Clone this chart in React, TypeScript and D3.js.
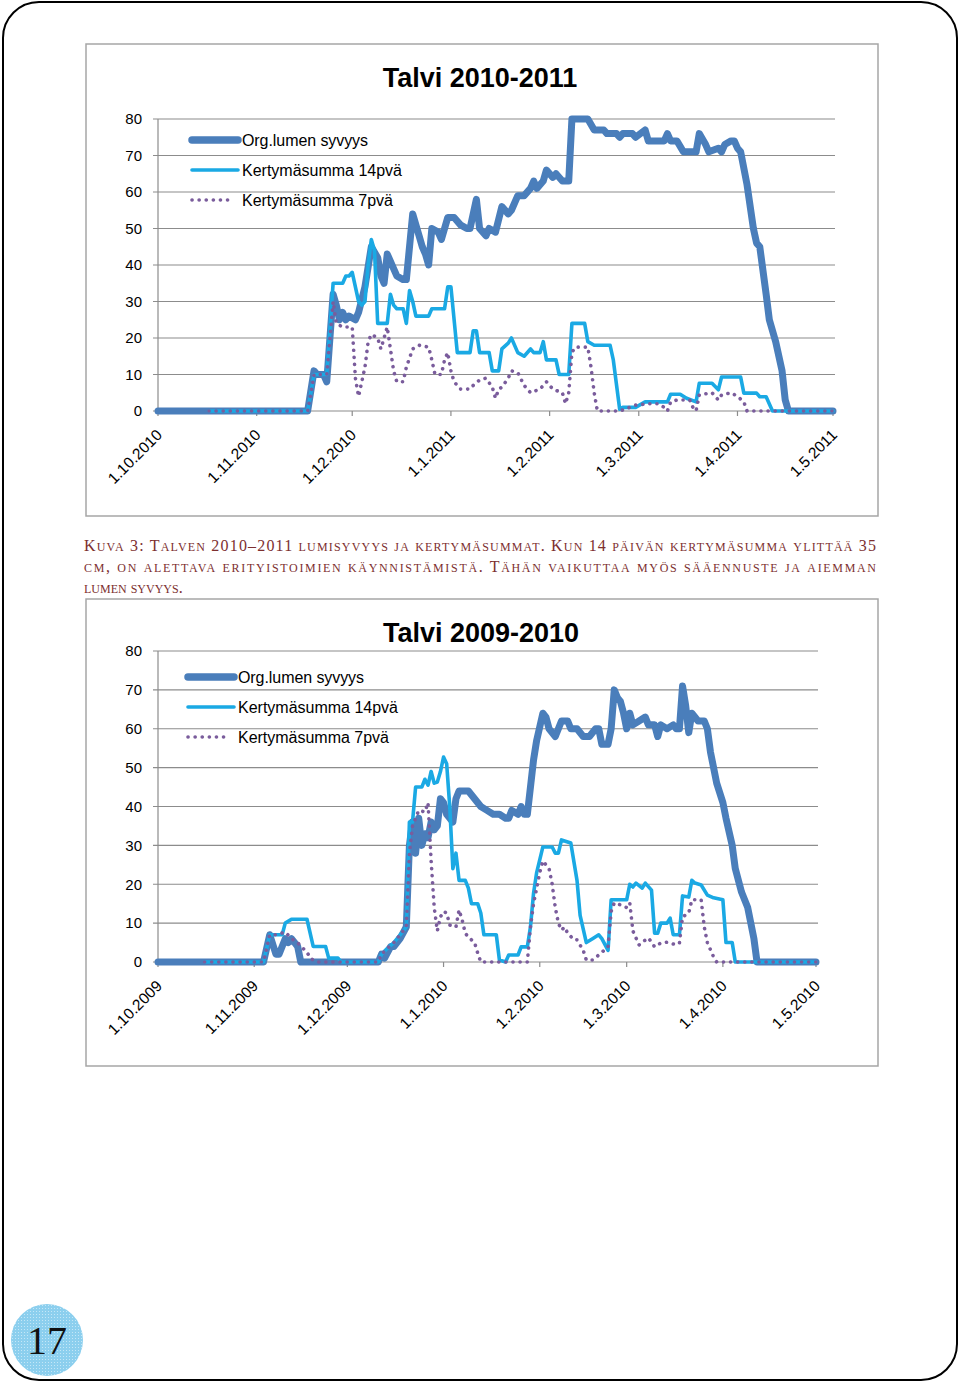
import React from "react";
import * as d3 from "d3";

type Pt = [number, number]; // [days since 1 October, value in cm]

const yTickValues = [0, 10, 20, 30, 40, 50, 60, 70, 80];
const seriesNames = ["Org.lumen syvyys", "Kertymäsumma 14pvä", "Kertymäsumma 7pvä"];
const titles = ["Talvi 2010-2011", "Talvi 2009-2010"];
const xTickLabelsA = ["1.10.2010", "1.11.2010", "1.12.2010", "1.1.2011", "1.2.2011", "1.3.2011", "1.4.2011", "1.5.2011"];
const xTickLabelsB = ["1.10.2009", "1.11.2009", "1.12.2009", "1.1.2010", "1.2.2010", "1.3.2010", "1.4.2010", "1.5.2010"];

// Winter 2010-2011
const depthA: Pt[] = [[0,0],[47,0],[49,11],[50,10],[52,10],[53,8],[55,32],[56,29],[57,25],[58,27],[59,25],[60,26],[62,25],[63,27],[65,34],[67,45],[69,42],[70,37],[71,35],[72,43],[74,39],[75,37],[77,36],[78,36],[80,54],[82,48],[83,45],[84,43],[85,40],[86,50],[88,49],[89,47],[91,53],[93,53],[95,51],[97,50],[98,50],[100,58],[101,50],[103,48],[104,50],[106,49],[108,56],[110,54],[111,55],[113,59],[115,59],[117,61],[118,63],[119,61],[121,63],[122,66],[124,64],[125,65],[127,63],[129,63],[130,80],[135,80],[137,77],[140,77],[141,76],[144,76],[145,75],[146,76],[149,76],[150,75],[153,77],[154,74],[159,74],[160,76],[161,74],[163,74],[165,71],[169,71],[170,76],[172,73],[173,71],[176,72],[177,71],[178,73],[180,74],[181,74],[182,72],[183,71],[185,62],[187,50],[188,46],[189,45],[191,32],[192,25],[194,19],[196,11],[197,3],[198,0],[212,0]];
const sum14A: Pt[] = [[16,0],[47,0],[49,10],[53,10],[55,35],[58,35],[59,37],[60,37],[61,38],[63,30],[64,29],[65,30],[66,40],[67,47],[68,44],[69,24],[72,24],[73,32],[74,29],[75,28],[77,28],[78,24],[79,33],[80,30],[81,26],[85,26],[86,28],[90,28],[91,34],[92,34],[94,16],[98,16],[99,22],[100,22],[101,16],[104,16],[105,11],[107,11],[108,17],[110,18.6],[111,20],[113,16],[115,15],[117,17],[118,16],[120,16],[121,19],[122,14],[125,14],[126,10],[129,10],[130,24],[134,24],[135,19],[137,18],[142,18],[143,14],[145,0.5],[146,1],[150,1],[153,2.5],[160,2.5],[161,4.6],[164,4.6],[166,3.5],[169,2.5],[170,7.6],[174,7.6],[176,5.8],[177,9.3],[183,9.3],[184,4.9],[188,4.9],[189,3.9],[191,3.9],[193,0],[212,0]];
const sum7A: Pt[] = [[16,0],[47,0],[49,10],[53,10],[55,30],[56,24],[58,23],[61,23],[62,9],[63,4],[64,8],[65,12],[66,19],[67,21],[69,20],[70,17],[71,20],[72,23],[73,17],[74,11],[75,8],[77,8],[78,12],[80,17],[82,18],[85,17.5],[86,14],[87,10],[89,10],[90,14],[91,16],[92,11],[93,8],[95,6],[98,6],[99,7],[101,8.5],[103,9],[105,6.5],[106,3.5],[107,6],[108,6.5],[110,9],[111,11],[113,10.5],[115,7],[117,5],[120,6],[122,8],[124,6],[127,5],[128,2],[129,5],[130,16],[131,17.5],[135,17.5],[136,12],[137,5],[138,0],[145,0],[150,1.6],[154,2],[157,2],[159,1],[160,0],[161,2.5],[163,3],[167,3],[168,1],[169,0],[170,4.4],[174,5],[176,3],[177,4.4],[180,5],[182,4],[184,2.5],[185,0],[212,0]];

// Winter 2009-2010
const depthB: Pt[] = [[0,0],[34,0],[36,7],[38,2],[39,2],[41,6],[42,5],[43,6],[45,4],[46,0],[71,0],[72,2],[73,1],[75,4],[76,4],[78,6],[80,9],[81,30],[82,36],[83,28],[84,37],[85,30],[86,33],[87,32],[88,36],[89,34],[90,35],[91,42],[92,41],[93,38],[95,36],[96,42],[97,44],[100,44],[102,42],[104,40],[106,39],[108,38],[110,38],[112,37],[113,37],[114,39],[116,38],[117,40],[118,38],[119,38],[120,45],[121,52],[122,57],[124,64],[125,63],[126,60],[128,58],[129,60],[130,62],[132,62],[133,60],[135,60],[137,58],[139,58],[141,60],[142,60],[143,56],[145,56],[146,60],[147,70],[148,68],[149,67],[150,64],[151,60],[152,64],[153,61],[155,62],[157,63],[158,61],[160,61],[161,58],[162,61],[164,60],[166,61],[167,60],[168,60],[169,71],[170,66],[171,59],[172,64],[174,62],[176,62],[177,60],[178,54],[180,46],[182,41],[183,37],[185,30],[186,24],[188,18],[190,14],[191,10],[192,6],[193,0],[212,0]];
const sum14B: Pt[] = [[15,0],[34,0],[36,7],[40,7],[41,10],[43,11],[48,11],[50,4],[54,4],[55,1],[58,1],[59,0],[71,0],[72,2],[74,3.6],[76,5],[78,7],[80,9],[81,36],[82,36],[83,45],[85,45],[86,47],[87,45.5],[88,49],[89,46],[90,46.3],[91,49],[92,52.7],[93,51],[94,40],[95,24],[96,28],[97,21],[99,21],[100,19],[101,15],[103,15],[104,12.6],[105,7],[109,7],[110,0.5],[112,0],[113,1.8],[116,1.8],[117,3.9],[119,3.9],[120,9],[121,17.7],[122,23],[124,29.6],[127,29.6],[128,28],[129,28],[130,31.4],[133,30.6],[135,21],[136,12],[138,5],[140,6],[142,7],[143,6],[145,3],[146,16],[151,16],[152,20],[153,19.3],[154,20.3],[156,19],[157,20.3],[159,18.5],[160,7.4],[161,7.4],[162,10],[164,10],[165,11.3],[166,7],[168,7],[169,17],[171,16.7],[172,21],[173,20.3],[175,19.8],[177,17.2],[179,16.5],[182,16],[183,5],[185,5],[186,0],[212,0]];
const sum7B: Pt[] = [[15,0],[34,0],[36,7],[38,7],[41,7.7],[43,6],[45,5],[46,4],[48,2.6],[49,1],[51,0],[71,0],[72,2],[74,3.6],[76,5],[78,7],[80,9],[81,28],[82,35],[84,39],[86,38.6],[87,41],[88,26],[89,14],[90,8],[91,11.6],[92,13],[93,12.6],[94,9.5],[96,9],[97,13.4],[98,10.8],[99,7.4],[100,6.4],[102,5],[103,2.3],[104,0],[119,0],[120,9],[121,15],[122,19],[123,23],[124,26],[126,24],[127,20],[128,14],[129,10],[130,8.2],[131,9],[132,7.4],[134,5.7],[135,5.7],[137,3],[138,0.5],[140,0.5],[142,1.8],[145,3.9],[146,13],[147,15.2],[149,14.7],[151,14],[152,15.2],[153,8],[155,4.4],[156,5.1],[158,6.2],[160,3.9],[162,4.9],[164,5.1],[167,4.4],[168,4.9],[169,11.6],[171,12.6],[172,16],[175,16],[176,9],[177,5],[179,1.3],[180,0],[212,0]];

const captionLines = [
  "Kuva 3: Talven 2010–2011 lumisyvyys ja kertymäsummat. Kun 14 päivän kertymäsumma ylittää 35",
  "cm, on alettava erityistoimien käynnistämistä. Tähän vaikuttaa myös sääennuste ja aiemman",
  "lumen syvyys.",
];
const pageNumber = "17";

const COLORS = ["#4a7ebb", "#1aa9e4", "#7a5c9c"];
const GRID = "#8c8c8c";
const SANS = "'Liberation Sans', Arial, sans-serif";
const SERIF = "'Liberation Serif', 'Times New Roman', serif";

type ChartProps = {
  startYear: number;
  title: string;
  tickLabels: string[];
  series: Pt[][];
  frame: { x: number; y: number; w: number; h: number };
  plot: { left: number; right: number; top: number; bottom: number };
  titleY: number;
  titleX: number;
  legend: { x1: number; x2: number; tx: number; ys: number[] };
};

function Chart(p: ChartProps) {
  const start = new Date(p.startYear, 9, 1);
  const end = new Date(p.startYear + 1, 4, 1);
  const x = d3.scaleTime().domain([start, end]).range([p.plot.left, p.plot.right]);
  const y = d3.scaleLinear().domain([0, 80]).range([p.plot.bottom, p.plot.top]);
  const months = d3.timeMonth.range(start, d3.timeDay.offset(end, 1));
  const line = d3
    .line<Pt>()
    .x((d) => x(d3.timeDay.offset(start, d[0])))
    .y((d) => y(d[1]));
  const gridRight = p.plot.right + 2;
  const styles = [
    { stroke: COLORS[0], strokeWidth: 7, dash: undefined as string | undefined },
    { stroke: COLORS[1], strokeWidth: 3.6, dash: undefined as string | undefined },
    { stroke: COLORS[2], strokeWidth: 3.6, dash: "0.1 7" },
  ];
  return (
    <g>
      <rect x={p.frame.x} y={p.frame.y} width={p.frame.w} height={p.frame.h} fill="#fff" stroke="#a6a6a6" strokeWidth={1.5} />
      <text x={p.titleX} y={p.titleY} textAnchor="middle" fontFamily={SANS} fontWeight="bold" fontSize={27} fill="#000">
        {p.title}
      </text>
      {yTickValues.map((v) => (
        <g key={v}>
          <line x1={p.plot.left - 5} x2={gridRight} y1={y(v)} y2={y(v)} stroke={GRID} strokeWidth={1.2} />
          <text x={142} y={y(v)} dy="0.35em" textAnchor="end" fontFamily={SANS} fontSize={15} fill="#000">
            {v}
          </text>
        </g>
      ))}
      <line x1={p.plot.left} x2={p.plot.left} y1={p.plot.top} y2={p.plot.bottom} stroke={GRID} strokeWidth={1.2} />
      {months.map((m, i) => (
        <g key={i}>
          <line x1={x(m)} x2={x(m)} y1={p.plot.bottom} y2={p.plot.bottom + 5} stroke={GRID} strokeWidth={1.2} />
          <text
            transform={`translate(${x(m) + 5},${p.plot.bottom + 25}) rotate(-45)`}
            textAnchor="end"
            fontFamily={SANS}
            fontSize={15.5}
            fill="#000"
          >
            {p.tickLabels[i]}
          </text>
        </g>
      ))}
      {p.series.map((s, i) => (
        <path
          key={i}
          d={line(s) || ""}
          fill="none"
          stroke={styles[i].stroke}
          strokeWidth={styles[i].strokeWidth}
          strokeDasharray={styles[i].dash}
          strokeLinejoin="round"
          strokeLinecap="round"
        />
      ))}
      {seriesNames.map((name, i) => (
        <g key={name}>
          <line
            x1={p.legend.x1}
            x2={i === 2 ? p.legend.x2 - 4 : p.legend.x2}
            y1={p.legend.ys[i]}
            y2={p.legend.ys[i]}
            stroke={styles[i].stroke}
            strokeWidth={i === 0 ? 7.5 : styles[i].strokeWidth}
            strokeDasharray={styles[i].dash}
            strokeLinecap="round"
          />
          <text x={p.legend.tx} y={p.legend.ys[i]} dy="0.36em" fontFamily={SANS} fontSize={16} fill="#000"
            textLength={[126, 160, 151][i]} lengthAdjust="spacing">
            {name}
          </text>
        </g>
      ))}
    </g>
  );
}

// Manual small caps: capitals, digits and punctuation at full size, lower case as reduced capitals
function smallCapsRuns(s: string) {
  const runs: { t: string; small: boolean }[] = [];
  for (const ch of s) {
    const small = ch !== ch.toUpperCase() || (ch.toLowerCase() === ch && /[a-zäöå]/.test(ch));
    const t = small ? ch.toUpperCase() : ch;
    const last = runs[runs.length - 1];
    if (last && last.small === small) last.t += t;
    else runs.push({ t, small });
  }
  return runs;
}

function Caption({ text, y, justify }: { text: string; y: number; justify: boolean }) {
  const runs = smallCapsRuns(text);
  return (
    <text x={84} y={y} textLength={justify ? 792 : undefined} lengthAdjust="spacing">
      {runs.map((r, i) => (
        <tspan key={i} fontSize={r.small ? 12 : 16}>
          {r.t}
        </tspan>
      ))}
    </text>
  );
}

export default function App() {
  return (
    <svg width={960} height={1386} style={{ position: "absolute", left: 0, top: 0, background: "#fff" }}>
      <defs>
        <pattern id="dots" width={3} height={3} patternUnits="userSpaceOnUse">
          <rect width={3} height={3} fill="#8ccfee" />
          <rect width={1} height={1} fill="#c4e7f7" />
        </pattern>
      </defs>
      <rect x={0} y={0} width={960} height={1386} fill="#fff" />
      <rect x={3} y={2} width={954} height={1378} rx={36} ry={36} fill="none" stroke="#000" strokeWidth={2} />
      <Chart
        startYear={2010}
        title={titles[0]}
        tickLabels={xTickLabelsA}
        series={[depthA, sum14A, sum7A]}
        frame={{ x: 86, y: 44, w: 792, h: 472 }}
        plot={{ left: 158, right: 833, top: 119, bottom: 411 }}
        titleX={480}
        titleY={87}
        legend={{ x1: 192, x2: 238, tx: 242, ys: [140, 170, 200] }}
      />
      <g fontFamily={SERIF} fill="#7d2f2f">
        <Caption text={captionLines[0]} y={551} justify={true} />
        <Caption text={captionLines[1]} y={572} justify={true} />
        <Caption text={captionLines[2]} y={593} justify={false} />
      </g>
      <Chart
        startYear={2009}
        title={titles[1]}
        tickLabels={xTickLabelsB}
        series={[depthB, sum14B, sum7B]}
        frame={{ x: 86, y: 599, w: 792, h: 467 }}
        plot={{ left: 158, right: 816, top: 651, bottom: 962 }}
        titleX={481}
        titleY={642}
        legend={{ x1: 188, x2: 234, tx: 238, ys: [677, 707, 737] }}
      />
      <circle cx={47} cy={1340} r={36} fill="url(#dots)" />
      <text x={47} y={1354} textAnchor="middle" fontFamily={SERIF} fontSize={40} fill="#111">
        {pageNumber}
      </text>
    </svg>
  );
}
